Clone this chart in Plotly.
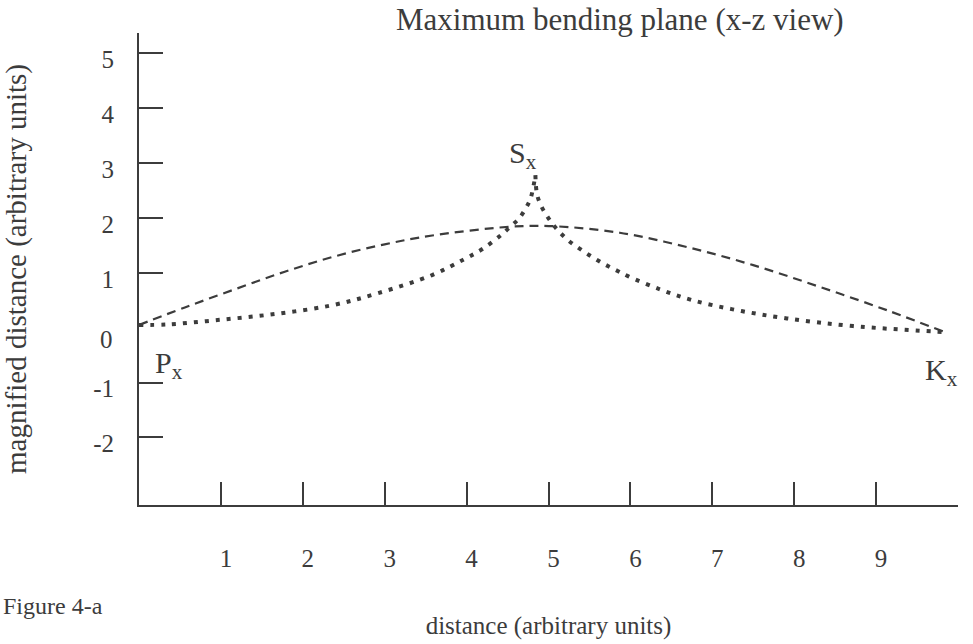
import plotly.graph_objects as go

# Curve samples (distance, magnified distance)
dashed_x = [0.0, 0.56, 1.17, 1.78, 2.39, 3.00, 3.58, 4.53, 5.06, 5.87, 6.69, 7.50, 8.32, 9.13, 9.84]
dashed_y = [0.05, 0.37, 0.70, 1.02, 1.30, 1.52, 1.68, 1.84, 1.85, 1.73, 1.47, 1.14, 0.74, 0.32, -0.08]

# Dotted curve: rising branch P -> S and falling branch S -> K
dot_left_x = [0.0, 0.35, 0.96, 1.66, 2.36, 2.92, 3.58, 3.96, 4.20, 4.43, 4.54, 4.64, 4.72, 4.78, 4.84]
dot_left_y = [0.05, 0.06, 0.14, 0.25, 0.41, 0.63, 0.96, 1.24, 1.44, 1.70, 1.85, 1.99, 2.17, 2.35, 2.78]
dot_right_x = [4.84, 4.86, 4.91, 4.98, 5.06, 5.15, 5.25, 5.37, 5.49, 5.61, 5.73, 5.85, 5.97, 6.36, 6.76, 7.30, 7.91, 8.72, 9.84]
dot_right_y = [2.78, 2.43, 2.22, 2.04, 1.87, 1.72, 1.58, 1.45, 1.33, 1.22, 1.12, 1.03, 0.94, 0.70, 0.50, 0.32, 0.17, 0.03, -0.08]

# Point labels
point_names = ["P", "S", "K"]
point_x = [0.0, 4.84, 9.84]
point_y = [0.05, 2.78, -0.08]

x_ticks = [1, 2, 3, 4, 5, 6, 7, 8, 9]
y_ticks = [-2, -1, 1, 2, 3, 4, 5]

INK = "#3c3c3c"
SERIF = "Liberation Serif, Times New Roman, serif"

fig = go.Figure()

fig.add_trace(go.Scatter(
    x=dashed_x, y=dashed_y, mode="lines", line_shape="spline",
    line=dict(color=INK, width=2.2, dash="9px,6px"), showlegend=False,
))
for xs, ys in ((dot_left_x, dot_left_y), (dot_right_x, dot_right_y)):
    fig.add_trace(go.Scatter(
        x=xs, y=ys, mode="lines", line_shape="spline",
        line=dict(color=INK, width=4, dash="4px,7px"), showlegend=False,
    ))

annotations = []
# Subscripted point labels placed around the curve end points and peak
offsets = {"P": (30, -40), "S": (-12, 20), "K": (-3, -40)}
for name, px, py in zip(point_names, point_x, point_y):
    dx, dy = offsets[name]
    annotations.append(dict(
        x=px, y=py, xref="x", yref="y", text=f"{name}<sub>x</sub>",
        showarrow=False, xshift=dx, yshift=dy,
        font=dict(family=SERIF, size=30, color=INK),
    ))

# Zero label on the vertical axis (no tick mark at zero)
annotations.append(dict(
    x=0, y=0, xref="paper", yref="y", text="0", showarrow=False,
    xanchor="right", xshift=-24, yshift=-12,
    font=dict(family=SERIF, size=25, color=INK),
))

# Figure caption
annotations.append(dict(
    x=-0.168, y=-0.215, xref="paper", yref="paper", text="Figure 4-a",
    showarrow=False, xanchor="left", yanchor="middle",
    font=dict(family=SERIF, size=24, color=INK),
))

fig.update_layout(
    width=973, height=644,
    margin=dict(l=139, r=15, t=33, b=139),
    paper_bgcolor="white", plot_bgcolor="white",
    font=dict(family=SERIF, color=INK),
    title=dict(
        text="Maximum bending plane (x-z view)",
        x=0.637, xanchor="center", y=0.987, yanchor="top",
        font=dict(family=SERIF, size=31, color=INK),
    ),
    xaxis=dict(
        range=[0, 10], tickvals=x_ticks, ticktext=[str(v) for v in x_ticks],
        ticks="inside", ticklen=23, tickwidth=2, tickcolor=INK,
        showline=True, linecolor=INK, linewidth=2,
        showgrid=False, zeroline=False, automargin=False,
        ticklabelstandoff=30, ticklabelshift=5,
        tickfont=dict(family=SERIF, size=25, color=INK),
        title=dict(text="distance (arbitrary units)", standoff=45,
                   font=dict(family=SERIF, size=25, color=INK)),
    ),
    yaxis=dict(
        range=[-3.23, 5.37], tickvals=y_ticks, ticktext=[str(v) for v in y_ticks],
        ticks="inside", ticklen=24, tickwidth=2, tickcolor=INK,
        showline=True, linecolor=INK, linewidth=2,
        showgrid=False, zeroline=False, automargin=False,
        ticklabelstandoff=18, ticklabelshift=6,
        tickfont=dict(family=SERIF, size=25, color=INK),
        title=dict(text="magnified distance (arbitrary units)", standoff=60,
                   font=dict(family=SERIF, size=29, color=INK)),
    ),
    annotations=annotations,
)

fig.write_html("out.html")
